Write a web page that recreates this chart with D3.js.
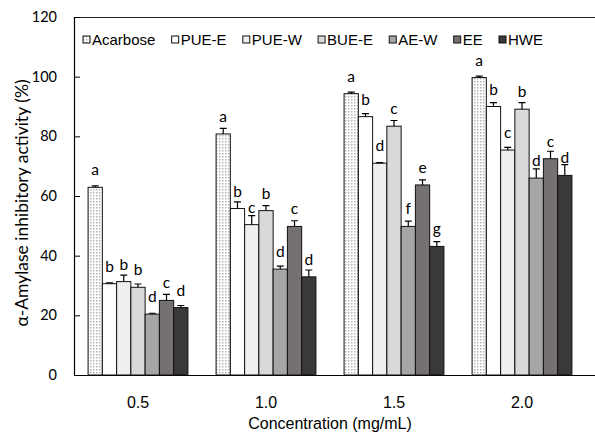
<!DOCTYPE html>
<html>
<head>
<meta charset="utf-8">
<script src="https://cdn.jsdelivr.net/npm/d3@7"></script>
<style>
  body { margin: 0; background: #fff; }
  svg { display: block; }
</style>
</head>
<body>
<svg id="chart" width="595" height="438"></svg>
<script>
(function() {
  const concentrations = ['0.5', '1.0', '1.5', '2.0'];
  const series = ['Acarbose', 'PUE-E', 'PUE-W', 'BUE-E', 'AE-W', 'EE', 'HWE'];
  // mean values per series, one entry per concentration
  const acarbose = [62.9, 80.8, 94.3, 99.7];
  const pueE = [30.6, 55.8, 86.6, 90.0];
  const pueW = [31.3, 50.4, 71.0, 75.4];
  const bueE = [29.4, 55.1, 83.4, 89.1];
  const aeW = [20.4, 35.5, 49.8, 66.0];
  const ee = [25.0, 49.8, 63.7, 72.5];
  const hwe = [22.6, 32.9, 43.1, 66.9];
  // standard deviations (upper error bar)
  const acarboseErr = [0.5, 1.9, 0.5, 0.5];
  const pueEErr = [0.3, 2.2, 1.0, 1.3];
  const pueWErr = [2.2, 3.0, 0.2, 0.9];
  const bueEErr = [1.1, 1.7, 1.9, 2.2];
  const aeWErr = [0.3, 1.0, 1.8, 3.1];
  const eeErr = [2.0, 1.9, 1.7, 2.5];
  const hweErr = [0.7, 2.3, 1.6, 3.6];
  // significance letters
  const acarboseSig = ['a', 'a', 'a', 'a'];
  const pueESig = ['b', 'b', 'b', 'b'];
  const pueWSig = ['b', 'c', 'd', 'c'];
  const bueESig = ['b', 'b', 'c', 'b'];
  const aeWSig = ['d', 'd', 'f', 'd'];
  const eeSig = ['c', 'c', 'e', 'c'];
  const hweSig = ['d', 'd', 'g', 'd'];
  const yTicks = [0, 20, 40, 60, 80, 100, 120];

  const values = [acarbose, pueE, pueW, bueE, aeW, ee, hwe];
  const errors = [acarboseErr, pueEErr, pueWErr, bueEErr, aeWErr, eeErr, hweErr];
  const letters = [acarboseSig, pueESig, pueWSig, bueESig, aeWSig, eeSig, hweSig];
  const fills = ['url(#dots)', '#ffffff', '#efefef', '#d9d9d9', '#a6a6a6', '#767171', '#3b3838'];

  const rows = [];
  concentrations.forEach((c, ci) => {
    series.forEach((s, si) => {
      rows.push({conc: c, series: s, value: values[si][ci], err: errors[si][ci],
        sig: letters[si][ci], fill: fills[si]});
    });
  });

  const svg = d3.select('#chart');
  let margin = {'top': 17, 'bottom': 63, 'left': 74, 'right': 9};
  let width = 595, height = 438;

  const defs = svg.append('defs');
  const pat = defs.append('pattern')
    .attr('id', 'dots')
    .attr('width', 3).attr('height', 3)
    .attr('patternUnits', 'userSpaceOnUse');
  pat.append('rect').attr('width', 3).attr('height', 3).attr('fill', '#fff');
  pat.append('rect').attr('width', 1.5).attr('height', 1.5).attr('fill', '#b4b4b4');

  let concToX = d3.scaleBand()
    .domain(concentrations)
    .range([margin.left, margin.left + 512])
    .paddingInner(0.22)
    .paddingOuter(0.11);
  let seriesToX = d3.scaleBand()
    .domain(series)
    .range([0, concToX.bandwidth()]);
  let valueToY = d3.scaleLinear()
    .domain([0, 120])
    .range([height - margin.bottom, margin.top]);

  // frame: top line and axes
  svg.append('line')
    .attr('x1', margin.left).attr('x2', width)
    .attr('y1', margin.top + 0.5).attr('y2', margin.top + 0.5)
    .attr('stroke', '#222').attr('stroke-width', 1.2);

  let yAxis = d3.axisRight(valueToY).tickValues(yTicks).tickSize(6).tickFormat(d3.format('d'));
  let yg = svg.append('g')
    .attr('transform', 'translate(' + margin.left + ',0)')
    .call(yAxis);
  yg.select('.domain').attr('stroke', '#000').attr('stroke-width', 1.2);
  yg.selectAll('.tick line').attr('stroke', '#000');
  yg.selectAll('.tick text')
    .attr('x', -17)
    .attr('text-anchor', 'end')
    .attr('fill', '#000')
    .style('font-family', 'Lato, sans-serif')
    .style('font-size', '14.5px');

  let xAxis = d3.axisBottom(concToX).tickSize(0).tickPadding(22);
  let xg = svg.append('g')
    .attr('transform', 'translate(0,' + (height - margin.bottom) + ')')
    .call(xAxis);
  xg.select('.domain').attr('d', 'M' + margin.left + ',0.5H' + width).attr('stroke', '#000').attr('stroke-width', 1.2);
  xg.selectAll('.tick text')
    .attr('fill', '#000')
    .style('font-family', '"Liberation Sans", Arial, sans-serif')
    .style('font-size', '16px');

  // bars
  let bars = svg.append('g');
  bars.selectAll('rect')
    .data(rows)
    .enter()
    .append('rect')
    .attr('x', d => concToX(d.conc) + seriesToX(d.series))
    .attr('y', d => valueToY(d.value))
    .attr('width', seriesToX.bandwidth())
    .attr('height', d => valueToY(0) - valueToY(d.value))
    .attr('fill', d => d.fill)
    .attr('stroke', '#111')
    .attr('stroke-width', 1);

  // error bars (upper only)
  let errG = svg.append('g').attr('stroke', '#000').attr('stroke-width', 1.2);
  errG.selectAll('path')
    .data(rows)
    .enter()
    .append('path')
    .attr('fill', 'none')
    .attr('d', d => {
      let cx = concToX(d.conc) + seriesToX(d.series) + seriesToX.bandwidth() / 2;
      let y0 = valueToY(d.value), y1 = valueToY(d.value + d.err);
      return 'M' + cx + ',' + y0 + 'V' + y1 + 'M' + (cx - 3.5) + ',' + y1 + 'H' + (cx + 3.5);
    });

  // significance letters
  svg.append('g').selectAll('text')
    .data(rows)
    .enter()
    .append('text')
    .attr('x', d => concToX(d.conc) + seriesToX(d.series) + seriesToX.bandwidth() / 2)
    .attr('y', d => valueToY(d.value) - 12)
    .attr('text-anchor', 'middle')
    .style('font-family', 'Lato, sans-serif')
    .style('font-size', '15.5px')
    .text(d => d.sig);

  // axis titles
  svg.append('text')
    .attr('transform', 'translate(28,' + 203 + ') rotate(-90)')
    .attr('text-anchor', 'middle')
    .style('font-family', 'Lato, sans-serif')
    .style('font-size', '17.5px')
    .text('α-Amylase inhibitory activity (%)');
  svg.append('text')
    .attr('x', (margin.left + margin.left + 512) / 2)
    .attr('y', 429)
    .attr('text-anchor', 'middle')
    .style('font-family', '"Liberation Sans", Arial, sans-serif')
    .style('font-size', '16px')
    .text('Concentration (mg/mL)');

  // legend
  let legend = svg.append('g').attr('transform', 'translate(0,45)');
  let items = legend.selectAll('g')
    .data(series)
    .enter()
    .append('g');
  items.append('rect')
    .attr('y', -9)
    .attr('width', 7).attr('height', 7)
    .attr('fill', (d, i) => fills[i])
    .attr('stroke', '#111');
  items.append('text')
    .attr('x', 9)
    .style('font-family', '"Liberation Sans", Arial, sans-serif')
    .style('font-size', '15px')
    .text(d => d);
  let widths = [];
  items.select('text').each(function() { widths.push(9 + this.getComputedTextLength()); });
  let gap = (543 - 83 - d3.sum(widths)) / (series.length - 1);
  let pos = 83;
  items.attr('transform', (d, i) => {
    let p = pos;
    pos += widths[i] + gap;
    return 'translate(' + p + ',0)';
  });
})();
</script>
</body>
</html>
